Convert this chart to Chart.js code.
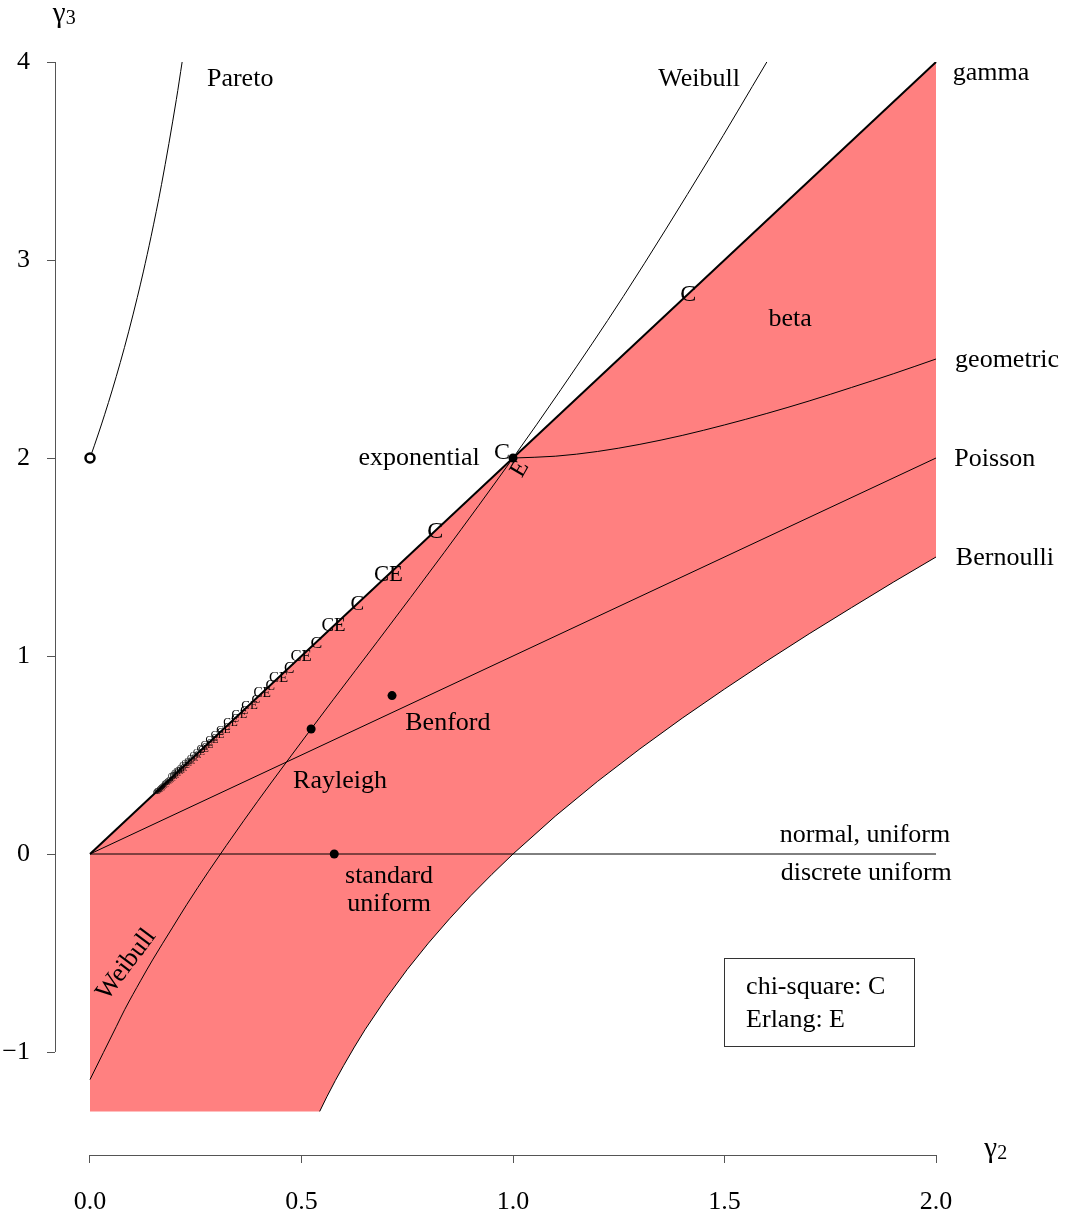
<!DOCTYPE html>
<html>
<head>
<meta charset="utf-8">
<script src="https://cdn.jsdelivr.net/npm/chart.js@4.4.0/dist/chart.umd.min.js"></script>
<style>
  html, body { margin: 0; padding: 0; background: #fff; }
  #wrap { width: 1067px; height: 1217px; }
</style>
</head>
<body>
<div id="wrap"><canvas id="momentChart" width="1067" height="1217"></canvas></div>
<script>
// gamma2 = coefficient of variation, gamma3 = skewness
const xTicks = [0, 0.5, 1, 1.5, 2];
const yTicks = [-1, 0, 1, 2, 3, 4];

const gammaX = [0, 2];
const gammaY = [0, 4];
const poissonX = [0, 2];
const poissonY = [0, 2];
const normalX = [0, 2];
const normalY = [0, 0];

const geometricX = [1.0, 1.1, 1.2, 1.3, 1.4, 1.5, 1.6, 1.7, 1.8, 1.9, 2.0];
const geometricY = [2.0, 2.009, 2.033, 2.069, 2.114, 2.167, 2.225, 2.288, 2.356, 2.426, 2.5];

const bernoulliX = [0.543, 0.56, 0.58, 0.6, 0.625, 0.65, 0.7, 0.75, 0.8, 0.85, 0.9, 0.95, 1.0, 1.1, 1.2, 1.3, 1.4, 1.5, 1.6, 1.7, 1.8, 1.9, 2.0];
const bernoulliY = [-1.3, -1.226, -1.144, -1.067, -0.975, -0.888, -0.729, -0.583, -0.45, -0.327, -0.211, -0.103, 0, 0.191, 0.367, 0.531, 0.686, 0.833, 0.975, 1.112, 1.244, 1.374, 1.5];
const betaFloor = -1.3;

const weibullX = [0, 0.0316, 0.0621, 0.082, 0.1203, 0.1479, 0.1945, 0.2291, 0.2805, 0.3634, 0.4278, 0.5227, 0.5748, 0.679, 0.8368, 1.0, 1.113, 1.2605, 1.4625, 1.6];
const weibullY = [-1.1395, -1.003, -0.872, -0.786, -0.6376, -0.535, -0.3733, -0.2541, -0.0872, 0.1681, 0.3586, 0.6311, 0.779, 1.072, 1.5215, 2.0, 2.345, 2.815, 3.507, 4.0];

const paretoX = [0, 0.0101, 0.0204, 0.0345, 0.0527, 0.0716, 0.0913, 0.1118, 0.126, 0.1443, 0.169, 0.2041, 0.2178];
const paretoY = [2.0, 2.0616, 2.1264, 2.2184, 2.3438, 2.4825, 2.6372, 2.811, 2.9397, 3.1177, 3.3806, 3.8103, 4.0];

const chiSquareX = [1.414, 1.0, 0.816, 0.707, 0.632, 0.577, 0.535, 0.5, 0.471, 0.447, 0.426, 0.408, 0.392, 0.378, 0.365, 0.354, 0.343, 0.333, 0.324, 0.316,
  0.309, 0.302, 0.295, 0.289, 0.283, 0.277, 0.272, 0.267, 0.263, 0.258, 0.254, 0.25, 0.246, 0.243, 0.239, 0.236, 0.232, 0.229, 0.226, 0.224,
  0.221, 0.218, 0.216, 0.213, 0.211, 0.209, 0.206, 0.204, 0.202, 0.2, 0.198, 0.196, 0.194, 0.192, 0.191, 0.189, 0.187, 0.186, 0.184, 0.183,
  0.181, 0.18, 0.178, 0.177, 0.175, 0.174, 0.173, 0.171, 0.17, 0.169, 0.168, 0.167, 0.166, 0.164, 0.163, 0.162, 0.161, 0.16, 0.159, 0.158];
const chiSquareY = [2.828, 2.0, 1.632, 1.414, 1.264, 1.154, 1.07, 1.0, 0.942, 0.894, 0.852, 0.816, 0.784, 0.756, 0.73, 0.708, 0.686, 0.666, 0.648, 0.632,
  0.618, 0.604, 0.59, 0.578, 0.566, 0.554, 0.544, 0.534, 0.526, 0.516, 0.508, 0.5, 0.492, 0.486, 0.478, 0.472, 0.464, 0.458, 0.452, 0.448,
  0.442, 0.436, 0.432, 0.426, 0.422, 0.418, 0.412, 0.408, 0.404, 0.4, 0.396, 0.392, 0.388, 0.384, 0.382, 0.378, 0.374, 0.372, 0.368, 0.366,
  0.362, 0.36, 0.356, 0.354, 0.35, 0.348, 0.346, 0.342, 0.34, 0.338, 0.336, 0.334, 0.332, 0.328, 0.326, 0.324, 0.322, 0.32, 0.318, 0.316];

const erlangX = [1.0, 0.707, 0.577, 0.5, 0.447, 0.408, 0.378, 0.354, 0.333, 0.316, 0.302, 0.289, 0.277, 0.267, 0.258, 0.25, 0.243, 0.236, 0.229, 0.224,
  0.218, 0.213, 0.209, 0.204, 0.2, 0.196, 0.192, 0.189, 0.186, 0.183, 0.18, 0.177, 0.174, 0.171, 0.169, 0.167, 0.164, 0.162, 0.16, 0.158];
const erlangY = [2.0, 1.414, 1.154, 1.0, 0.894, 0.816, 0.756, 0.708, 0.666, 0.632, 0.604, 0.578, 0.554, 0.534, 0.516, 0.5, 0.486, 0.472, 0.458, 0.448,
  0.436, 0.426, 0.418, 0.408, 0.4, 0.392, 0.384, 0.378, 0.372, 0.366, 0.36, 0.354, 0.348, 0.342, 0.338, 0.334, 0.328, 0.324, 0.32, 0.316];

const namedPointsX = [1.0, 0.5227, 0.714, 0.5774];   // exponential, Rayleigh, Benford, standard uniform
const namedPointsY = [2.0, 0.6311, 0.80, 0];
const paretoLimitX = [0];
const paretoLimitY = [2];

const labels = [
  { text: 'Pareto', x: 0.355, y: 3.924 },
  { text: 'Weibull', x: 1.44, y: 3.924 },
  { text: 'gamma', x: 2.13, y: 3.955 },
  { text: 'beta', x: 1.655, y: 2.712 },
  { text: 'geometric', x: 2.168, y: 2.505 },
  { text: 'Poisson', x: 2.139, y: 2.005 },
  { text: 'Bernoulli', x: 2.163, y: 1.505 },
  { text: 'exponential', x: 0.778, y: 2.01 },
  { text: 'Benford', x: 0.846, y: 0.672 },
  { text: 'Rayleigh', x: 0.591, y: 0.379 },
  { text: 'normal, uniform', x: 1.832, y: 0.106 },
  { text: 'discrete uniform', x: 1.835, y: -0.086 },
  { text: 'standard', x: 0.707, y: -0.101 },
  { text: 'uniform', x: 0.707, y: -0.242 },
  { text: 'Weibull', x: 0.086, y: -0.548, rotate: -53 }
];
const legendLines = ['chi-square: C', 'Erlang: E'];

const FONT = '"Liberation Serif", "Times New Roman", serif';
const FILL_RED = 'rgb(255, 128, 128)';
const AXIS_COLOR = '#555';

function pts(xs, ys) {
  return xs.map((x, i) => ({ x: x, y: ys[i] }));
}

function lineSet(data, width, smooth) {
  return {
    data: data,
    showLine: true,
    borderColor: '#000',
    borderWidth: width,
    pointRadius: 0,
    fill: false,
    tension: 0,
    cubicInterpolationMode: smooth ? 'monotone' : 'default',
    order: 1
  };
}

const betaLower = [{ x: 0, y: betaFloor }].concat(pts(bernoulliX, bernoulliY));

const datasets = [
  lineSet(pts(gammaX, gammaY), 2, false),
  {
    data: betaLower,
    showLine: true,
    borderWidth: 0,
    borderColor: 'rgba(0,0,0,0)',
    backgroundColor: FILL_RED,
    pointRadius: 0,
    tension: 0,
    fill: { target: '-1', above: FILL_RED, below: FILL_RED },
    order: 10
  },
  lineSet(pts(poissonX, poissonY), 1, false),
  lineSet(pts(normalX, normalY), 1, false),
  lineSet(pts(geometricX, geometricY), 1, true),
  lineSet(pts(bernoulliX, bernoulliY), 1, false),
  lineSet(pts(weibullX, weibullY), 1, true),
  lineSet(pts(paretoX, paretoY), 1, true),
  {
    data: pts(namedPointsX, namedPointsY),
    showLine: false,
    pointRadius: 4.5,
    pointBackgroundColor: '#000',
    pointBorderColor: '#000',
    pointBorderWidth: 0,
    order: 0
  },
  {
    data: pts(paretoLimitX, paretoLimitY),
    showLine: false,
    pointRadius: 4.5,
    pointBackgroundColor: '#fff',
    pointBorderColor: '#000',
    pointBorderWidth: 2.5,
    order: 0
  },
  { data: pts(chiSquareX, chiSquareY), showLine: false, pointRadius: 0, order: 2 },
  { data: pts(erlangX, erlangY), showLine: false, pointRadius: 0, order: 2 }
];
const CHI_INDEX = 10;
const ERLANG_INDEX = 11;

function markerSize(v) {
  return Math.min(24, 31 * Math.pow(v, 0.9));
}

const overlayPlugin = {
  id: 'overlay',
  afterDatasetsDraw(chart) {
    const ctx = chart.ctx;
    const xs = chart.scales.x;
    const ys = chart.scales.y;
    const area = chart.chartArea;
    const px = v => xs.getPixelForValue(v);
    const py = v => ys.getPixelForValue(v);

    ctx.save();

    // axis lines only span the tick range, R style
    ctx.strokeStyle = AXIS_COLOR;
    ctx.lineWidth = 1;
    ctx.beginPath();
    const ax = Math.round(area.left) + 0.5;
    ctx.moveTo(ax, py(yTicks[0]));
    ctx.lineTo(ax, py(yTicks[yTicks.length - 1]));
    const ay = Math.round(area.bottom) + 0.5;
    ctx.moveTo(px(xTicks[0]), ay);
    ctx.lineTo(px(xTicks[xTicks.length - 1]), ay);
    ctx.stroke();

    // chi-square / Erlang letters
    ctx.fillStyle = '#000';
    ctx.textBaseline = 'middle';
    const chiMeta = chart.getDatasetMeta(CHI_INDEX);
    const erMeta = chart.getDatasetMeta(ERLANG_INDEX);
    chiMeta.data.forEach((el, i) => {
      const v = chiSquareX[i];
      const shared = erlangX.some(e => Math.abs(e - v) < 1e-3);
      ctx.font = markerSize(v).toFixed(1) + 'px ' + FONT;
      if (Math.abs(v - 1) < 1e-6) {
        ctx.textAlign = 'right';
        ctx.fillText('C', el.x - 3, el.y - 5);
      } else if (shared) {
        ctx.textAlign = 'right';
        ctx.fillText('C', el.x, el.y + 1);
      } else {
        ctx.textAlign = 'center';
        ctx.fillText('C', el.x, el.y + 1);
      }
    });
    erMeta.data.forEach((el, i) => {
      const v = erlangX[i];
      ctx.font = markerSize(v).toFixed(1) + 'px ' + FONT;
      if (Math.abs(v - 1) < 1e-6) {
        ctx.save();
        ctx.translate(el.x + 7, el.y + 11);
        ctx.rotate(-Math.PI / 3);
        ctx.textAlign = 'center';
        ctx.fillText('E', 0, 0);
        ctx.restore();
      } else {
        ctx.textAlign = 'left';
        ctx.fillText('E', el.x, el.y + 1);
      }
    });

    // distribution labels
    ctx.font = '26px ' + FONT;
    labels.forEach(l => {
      ctx.save();
      ctx.translate(px(l.x), py(l.y) + 2);
      if (l.rotate) ctx.rotate(l.rotate * Math.PI / 180);
      ctx.textAlign = 'center';
      ctx.textBaseline = 'middle';
      ctx.fillText(l.text, 0, 0);
      ctx.restore();
    });

    // legend box
    const bx1 = Math.round(px(1.499)) + 0.5, bx2 = Math.round(px(1.948)) + 0.5;
    const by1 = Math.round(py(-0.525)) + 0.5, by2 = Math.round(py(-0.970)) + 0.5;
    ctx.strokeStyle = '#333';
    ctx.lineWidth = 1;
    ctx.strokeRect(bx1, by1, bx2 - bx1, by2 - by1);
    ctx.textAlign = 'left';
    ctx.textBaseline = 'middle';
    ctx.fillText(legendLines[0], px(1.551), py(-0.662) + 2);
    ctx.fillText(legendLines[1], px(1.551), py(-0.828) + 2);

    // axis titles
    ctx.textAlign = 'left';
    ctx.textBaseline = 'alphabetic';
    ctx.font = '29px ' + FONT;
    ctx.fillText('\u03b3', px(-0.088), py(4.2));
    ctx.fillText('\u03b3', px(2.114), py(-1.53));
    ctx.font = '20px ' + FONT;
    ctx.fillText('3', px(-0.088) + 13, py(4.2) + 2);
    ctx.fillText('2', px(2.114) + 13, py(-1.53) + 2);

    ctx.restore();
  }
};

const ctx = document.getElementById('momentChart').getContext('2d');
new Chart(ctx, {
  type: 'scatter',
  data: { datasets: datasets },
  options: {
    responsive: false,
    animation: false,
    events: [],
    layout: { padding: { top: 62, right: 7, left: 0, bottom: 0 } },
    plugins: {
      legend: { display: false },
      tooltip: { enabled: false },
      title: { display: false }
    },
    scales: {
      x: {
        type: 'linear',
        min: -0.08274,
        max: 2.2931,
        afterFit: s => { s.height = 62; },
        afterBuildTicks: s => { s.ticks = xTicks.map(v => ({ value: v })); },
        border: { display: false },
        grid: { drawOnChartArea: false, drawTicks: true, tickLength: 8, color: AXIS_COLOR, lineWidth: 1 },
        ticks: {
          autoSkip: false,
          maxRotation: 0,
          padding: 24,
          color: '#000',
          font: { family: FONT, size: 26 },
          callback: v => Number(v).toFixed(1)
        }
      },
      y: {
        type: 'linear',
        min: -1.5202,
        max: 4,
        afterFit: s => { s.width = 55; },
        afterBuildTicks: s => { s.ticks = yTicks.map(v => ({ value: v })); },
        border: { display: false },
        grid: { drawOnChartArea: false, drawTicks: true, tickLength: 8, color: AXIS_COLOR, lineWidth: 1 },
        ticks: {
          autoSkip: false,
          padding: 17,
          color: '#000',
          font: { family: FONT, size: 26 },
          callback: v => (v < 0 ? '\u2212' + Math.abs(v) : String(v))
        }
      }
    }
  },
  plugins: [overlayPlugin]
});
</script>
</body>
</html>
